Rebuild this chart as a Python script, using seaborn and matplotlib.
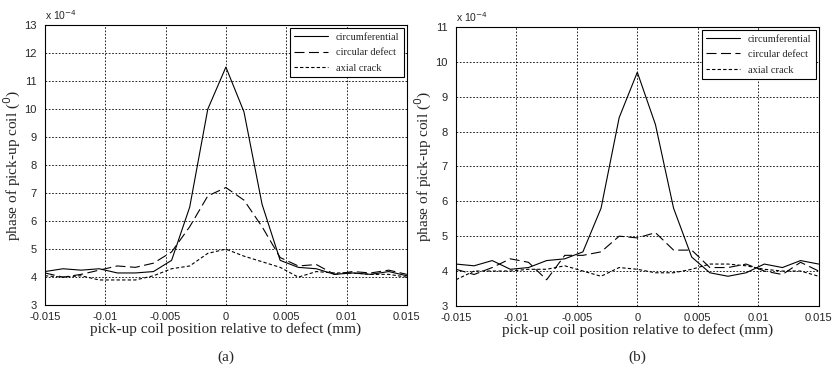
import numpy as np
import pandas as pd
import matplotlib
matplotlib.use("Agg")
import matplotlib.pyplot as plt
import seaborn as sns

sns.set_style("white")
plt.rcParams["font.family"] = ["Liberation Sans", "DejaVu Sans"]

# positions along the pipe (mm)
pos = [-0.015, -0.0135, -0.012, -0.0105, -0.009, -0.0075, -0.006, -0.0045, -0.003, -0.0015, 0.0,
       0.0015, 0.003, 0.0045, 0.006, 0.0075, 0.009, 0.0105, 0.012, 0.0135, 0.015]

# panel (a), values x 1e-4
a_circ = [4.2, 4.3, 4.25, 4.3, 4.15, 4.15, 4.2, 4.6, 6.5, 10.0, 11.5,
          9.9, 6.6, 4.6, 4.35, 4.3, 4.1, 4.15, 4.1, 4.2, 4.05]
a_circular = [4.15, 4.0, 4.1, 4.25, 4.4, 4.35, 4.5, 4.9, 5.8, 6.9, 7.2,
              6.75, 5.8, 4.7, 4.4, 4.45, 4.1, 4.2, 4.15, 4.25, 4.1]
a_axial = [4.05, 4.0, 4.05, 3.9, 3.9, 3.9, 4.05, 4.3, 4.4, 4.85, 5.0,
           4.75, 4.55, 4.35, 4.0, 4.2, 4.15, 4.15, 4.1, 4.1, 4.0]

# panel (b), values x 1e-4
b_circ = [4.2, 4.15, 4.3, 4.05, 4.1, 4.3, 4.35, 4.55, 5.8, 8.4, 9.7,
          8.2, 5.8, 4.4, 3.95, 3.85, 3.95, 4.2, 4.1, 4.3, 4.2]
b_circular = [4.05, 3.9, 4.1, 4.35, 4.25, 3.75, 4.45, 4.45, 4.55, 5.0, 4.95,
              5.1, 4.6, 4.6, 4.1, 4.1, 4.2, 4.0, 3.9, 4.25, 4.0]
b_axial = [3.75, 4.0, 4.0, 4.0, 4.05, 4.05, 4.15, 4.0, 3.85, 4.1, 4.05,
           3.95, 3.95, 4.05, 4.2, 4.2, 4.15, 4.05, 4.0, 4.0, 3.85]

labels = ["circumferential", "circular defect", "axial crack"]
dashes = {"circumferential": "", "circular defect": (9, 4), "axial crack": (3, 2)}
xticks = [-0.015, -0.01, -0.005, 0, 0.005, 0.01, 0.015]
xticklabels = ["-0.015", "-0.01", "-0.005", "0", "0.005", "0.01", "0.015"]

serif = ["Liberation Serif", "DejaVu Serif"]

fig = plt.figure(figsize=(8.32, 3.69), dpi=100)
ax_a = fig.add_axes([0.054, 0.173, 0.435, 0.759])
ax_b = fig.add_axes([0.548, 0.171, 0.436, 0.756])


def panel(ax, series, ymax, caption):
    df = pd.DataFrame({
        "x": pos * 3,
        "y": series[0] + series[1] + series[2],
        "kind": [labels[0]] * 21 + [labels[1]] * 21 + [labels[2]] * 21,
    })
    sns.lineplot(data=df, x="x", y="y", style="kind", dashes=dashes,
                 color="black", linewidth=0.8, ax=ax)
    ax.set_xlim(-0.015, 0.015)
    ax.set_ylim(3, ymax)
    ax.set_xticks(xticks)
    ax.set_xticklabels(xticklabels)
    ax.set_yticks(range(3, ymax + 1))
    ax.tick_params(labelsize=8, direction="in", length=3, pad=5)
    ax.tick_params(axis="y", pad=6)
    ax.grid(True, color="black", linestyle=(0, (2, 2)), linewidth=0.6)
    for s in ax.spines.values():
        s.set_color("black")
        s.set_linewidth(0.8)
    ax.set_xlabel("pick-up coil position relative to defect (mm)", family=serif,
                  fontsize=11, labelpad=0)
    ax.set_ylabel("phase of pick-up coil ($^0$)", family=serif, fontsize=11, labelpad=1)
    ax.text(0.0, 1.01, r"x 10$^{-4}$", transform=ax.transAxes, fontsize=7.5,
            va="bottom", ha="left")
    leg = ax.legend(loc="upper right", prop={"family": serif, "size": 7.5},
                    fancybox=False, framealpha=1, edgecolor="black",
                    handlelength=3.2, borderaxespad=0.3, labelspacing=0.6)
    leg.get_frame().set_linewidth(0.8)
    ax.text(0.5, -0.185, caption, transform=ax.transAxes, family=serif,
            fontsize=11, ha="center", va="center")


panel(ax_a, [a_circ, a_circular, a_axial], 13, "(a)")
panel(ax_b, [b_circ, b_circular, b_axial], 11, "(b)")

fig.savefig("out.png", dpi=100)
